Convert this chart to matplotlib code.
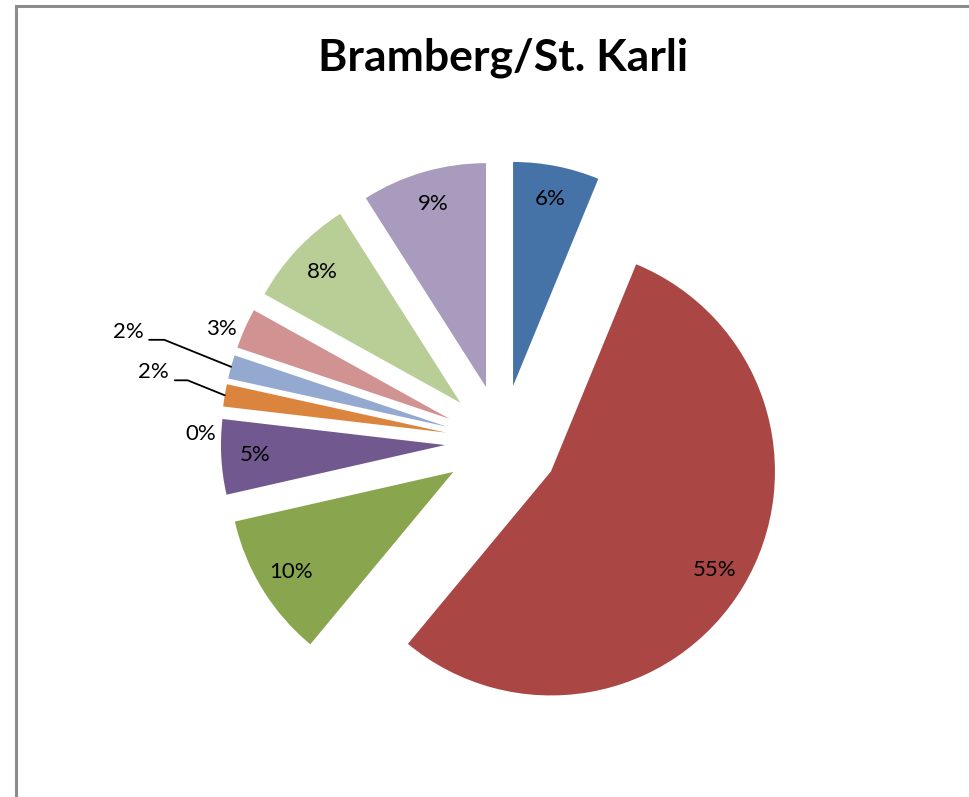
import numpy as np
import matplotlib
matplotlib.use("Agg")
import matplotlib.pyplot as plt
from matplotlib.patches import Rectangle

title = "Bramberg/St. Karli"
values = [6.2, 54.7, 10.4, 5.4, 0.0, 1.6, 1.7, 2.9, 7.9, 9.0]
colors = ["#4572A7", "#AA4643", "#89A54E", "#71588F", "#4198AF",
          "#DB843D", "#93A9CF", "#D19392", "#B9CD96", "#A99BBD"]
# outside-label style: slice index -> (text offset in pixels from outer edge, draw leader line)
outside = {4: ((-22, -25), False), 5: ((-71, 23), True), 6: ((-103, 35), True), 7: ((-23, 0), False)}

W, H = 969, 797
fig = plt.figure(figsize=(W / 100, H / 100), dpi=100)
fig.patch.set_facecolor("white")

# chart border
fig.add_artist(Rectangle((16 / W, -0.01), 1.05, (H - 6) / H + 0.01, transform=fig.transFigure,
                         fill=False, edgecolor="#8C8C8C", linewidth=2.2))

cx, cy, R = 502, 442, 224
half = 1.5 * R
ax = fig.add_axes([(cx - half) / W, (H - cy - half) / H, 2 * half / W, 2 * half / H])

wedges, _ = ax.pie(values, colors=colors, startangle=90, counterclock=False,
                   explode=[0.255] * len(values), radius=1.0,
                   wedgeprops=dict(linewidth=0), normalize=True)
ax.set_xlim(-1.5, 1.5)
ax.set_ylim(-1.5, 1.5)
ax.set_aspect("equal")
ax.axis("off")

total = sum(values)
font = "Lato"
fs = 16
for i, w in enumerate(wedges):
    pct = values[i] / total * 100
    lab = f"{pct:.0f}%"
    mid = np.deg2rad((w.theta1 + w.theta2) / 2)
    c = np.array(w.center)
    d = np.array([np.cos(mid), np.sin(mid)])
    if i not in outside:
        p = c + 0.85 * w.r * d
        ax.text(p[0], p[1], lab, ha="center", va="center", fontsize=fs, family=font, color="black")
    else:
        (dx, dy), leader = outside[i]
        p = c + w.r * d
        ax.annotate(lab, xy=(p[0], p[1]), xytext=(dx, dy), textcoords="offset pixels",
                    ha="center", va="center", fontsize=fs, family=font)
        if leader:
            ax.annotate("", xy=(p[0], p[1]), xytext=(dx + 21, dy - 8), textcoords="offset pixels",
                        arrowprops=dict(arrowstyle="-", color="black", lw=1.3,
                                        connectionstyle="angle,angleA=0,angleB=158,rad=0",
                                        shrinkA=0, shrinkB=0))

fig.text(503 / W, 1 - 58 / H, title, ha="center", va="center", fontsize=32,
         fontweight="bold", family=font)

fig.savefig("out.png", dpi=100, facecolor="white")
